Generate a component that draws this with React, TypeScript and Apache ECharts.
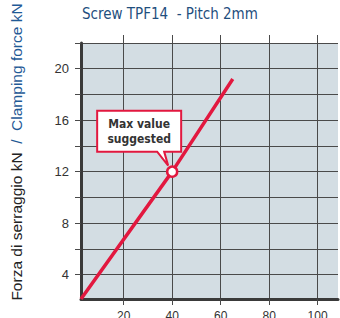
import React, { useEffect, useRef } from "react";
import * as echarts from "echarts";

// ---- data ----
const chartTitle = "Screw TPF14  - Pitch 2mm";
const yTitleIt = "Forza di serraggio kN";
const yTitleEn = "/  Clamping force kN";
const calloutLines = ["Max value", "suggested"];
const xTickValues = [20, 40, 60, 80, 100];
const yTickValues = [4, 6, 8, 10, 12, 14, 16, 18, 20, 22];
const yLabelValues = [4, 8, 12, 16, 20];
const torqueNm = [2.4, 40, 65];
const forceKN = [2.1, 12, 19.2];
const maxPoint = [40, 12];

const X_MIN = 2.4;
const X_MAX = 108.4;
const Y_MIN = 2.1;
const Y_MAX = 22;

const FONT = "'Liberation Sans Narrow', 'DejaVu Sans Condensed', 'Arial Narrow', sans-serif";
const SANS = "'Liberation Sans', Arial, sans-serif";
const RED = "#e2183f";

export default function App() {
  const ref = useRef<HTMLDivElement>(null);
  useEffect(() => {
    document.body.style.margin = "0";
    if (!ref.current) return;
    const chart = echarts.init(ref.current, undefined, { renderer: "svg" });
    const lineData = torqueNm.map((x, i) => [x, forceKN[i]]);
    chart.setOption({
      animation: false,
      title: {
        text: chartTitle,
        left: 77,
        top: 1,
        textStyle: { fontFamily: FONT, fontSize: 15, fontWeight: "normal", color: "#1f4f7e" },
      },
      grid: {
        left: 81,
        right: 2,
        top: 43,
        bottom: 19,
        show: true,
        backgroundColor: "#d3dde3",
        borderWidth: 0,
        containLabel: false,
        outerBoundsMode: "none",
      },
      xAxis: [
        {
          type: "value",
          min: X_MIN,
          max: X_MAX,
          axisLine: { show: true, onZero: false, lineStyle: { color: "#3a3a3a", width: 3 } },
          axisTick: { show: true, customValues: xTickValues, length: 6, lineStyle: { color: "#4a4a4a" } },
          axisLabel: { customValues: xTickValues, margin: 11, fontSize: 12, color: "#333", fontFamily: SANS },
          splitLine: { show: true, lineStyle: { color: "#4a4a4a", width: 1 } },
        },
        {
          type: "value",
          position: "top",
          min: X_MIN,
          max: X_MAX,
          axisLine: { show: false },
          axisTick: { show: true, customValues: xTickValues, length: 8, lineStyle: { color: "#4a4a4a" } },
          axisLabel: { show: false },
          splitLine: { show: false },
        },
      ],
      yAxis: {
        type: "value",
        min: Y_MIN,
        max: Y_MAX,
        axisLine: { show: true, onZero: false, lineStyle: { color: "#3a3a3a", width: 3 } },
        axisTick: { show: true, customValues: yTickValues, length: 6, lineStyle: { color: "#4a4a4a" } },
        axisLabel: { customValues: yLabelValues, margin: 12, fontSize: 13, color: "#333", fontFamily: SANS },
        splitLine: { show: true, lineStyle: { color: "#4a4a4a", width: 1 } },
      },
      series: [
        {
          type: "line",
          data: lineData,
          symbol: "none",
          lineStyle: { color: RED, width: 3.5 },
          z: 3,
        },
        {
          type: "scatter",
          data: [maxPoint],
          symbol: "circle",
          symbolSize: 10,
          itemStyle: { color: "#fff", borderColor: RED, borderWidth: 2.5, opacity: 1 },
          z: 5,
        },
      ],
    });

    const p = chart.convertToPixel({ gridIndex: 0 }, maxPoint) as number[];
    const px = p[0];
    const py = p[1];
    chart.setOption({
      graphic: [
        {
          type: "text",
          x: 16,
          y: 152,
          rotation: Math.PI / 2,
          style: {
            text: `{a|${yTitleIt}}{b|  ${yTitleEn}}`,
            align: "center",
            verticalAlign: "middle",
            rich: {
              a: { fontFamily: SANS, fontSize: 15.5, fill: "#222" },
              b: { fontFamily: SANS, fontSize: 15.5, fill: "#1f5a96" },
            },
          },
        },
        {
          type: "polygon",
          shape: {
            points: [
              [px - 75, py - 61],
              [px + 9, py - 61],
              [px + 9, py - 20],
              [px - 8, py - 20],
              [px - 4, py - 6],
              [px - 15, py - 20],
              [px - 75, py - 20],
            ],
          },
          style: { fill: "#fff", stroke: RED, lineWidth: 2 },
          z: 10,
        },
        {
          type: "text",
          x: px - 33,
          y: py - 40,
          style: {
            text: calloutLines.join("\n"),
            align: "center",
            verticalAlign: "middle",
            fontFamily: FONT,
            fontWeight: "bold",
            fontSize: 12,
            lineHeight: 15,
            fill: "#333",
          },
          z: 11,
        },
      ],
    });
    return () => chart.dispose();
  }, []);
  return <div ref={ref} style={{ width: 340, height: 318 }} />;
}
